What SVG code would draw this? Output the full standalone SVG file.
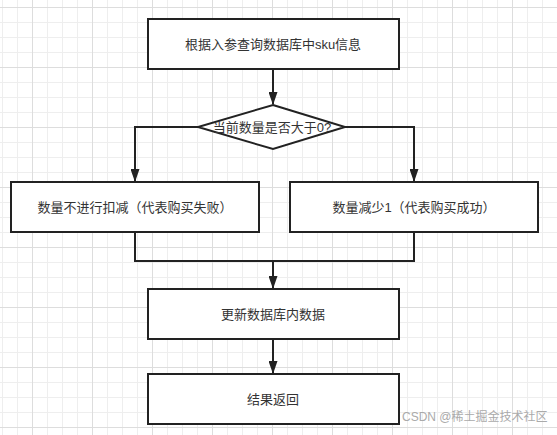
<svg xmlns="http://www.w3.org/2000/svg" width="557" height="435" viewBox="0 0 557 435">
<style>
.box{fill:#fff;stroke:#222;stroke-width:2}
.lbl{font-family:"Liberation Sans","Noto Sans CJK SC",sans-serif;font-size:13px;fill:#333;text-anchor:middle;dominant-baseline:central}
.edge{fill:none;stroke:#222;stroke-width:2}
.wm{font-family:"Liberation Sans","Noto Sans CJK SC",sans-serif;font-size:12px;fill:#aaa}
</style>
<defs>
<pattern id="minor" patternUnits="userSpaceOnUse" x="2" y="7" width="15" height="15">
<path d="M0.5 0V15M0 0.5H15" stroke="#eeeeee" stroke-width="1" fill="none"/>
</pattern>
<pattern id="major" patternUnits="userSpaceOnUse" x="32" y="7" width="60" height="60">
<path d="M0.5 0V60M0 0.5H60" stroke="#dddddd" stroke-width="1" fill="none"/>
</pattern>
<marker id="arr" viewBox="0 0 13 9" refX="12" refY="4.5" markerWidth="6.5" markerHeight="4.5" orient="auto" markerUnits="strokeWidth">
<path d="M0 0L13 4.5L0 9z" fill="#222"/>
</marker>
</defs>
<rect width="557" height="435" fill="#fff"/>
<rect width="557" height="435" fill="url(#minor)"/>
<rect width="557" height="435" fill="url(#major)"/>
<g id="connectors">
<path class="edge" d="M273 69V104" marker-end="url(#arr)"/>
<path class="edge" d="M198 127H135V181" marker-end="url(#arr)"/>
<path class="edge" d="M345 127H414V181" marker-end="url(#arr)"/>
<path class="edge" d="M135 232V261H414V232"/>
<path class="edge" d="M273 261V288" marker-end="url(#arr)"/>
<path class="edge" d="M273 339V373" marker-end="url(#arr)"/>
</g>
<g id="n1"><rect class="box" x="148" y="19" width="251" height="50"/><text class="lbl" x="273" y="44">根据入参查询数据库中sku信息</text></g>
<g id="n2"><polygon class="box" points="273,105 345,127 273,149 198,127"/><text class="lbl" x="272" y="127">当前数量是否大于0?</text></g>
<g id="n3"><rect class="box" x="11" y="182" width="248" height="50"/><text class="lbl" x="135" y="207">数量不进行扣减（代表购买失败）</text></g>
<g id="n4"><rect class="box" x="290" y="182" width="248" height="50"/><text class="lbl" x="414" y="207">数量减少1（代表购买成功）</text></g>
<g id="n5"><rect class="box" x="148" y="289" width="251" height="50"/><text class="lbl" x="273" y="314">更新数据库内数据</text></g>
<g id="n6"><rect class="box" x="148" y="374" width="251" height="50"/><text class="lbl" x="273" y="399">结果返回</text></g>
<text class="wm" x="402" y="421">CSDN @稀土掘金技术社区</text>
</svg>
